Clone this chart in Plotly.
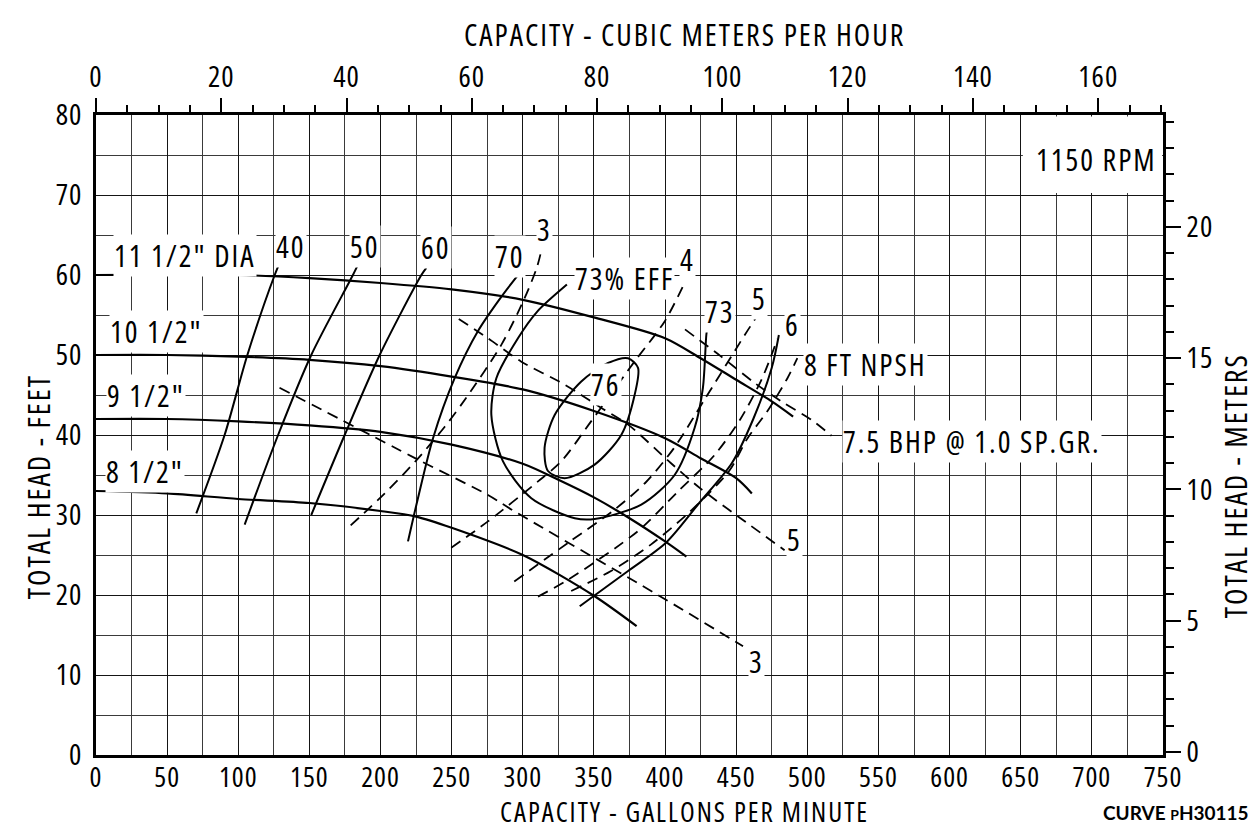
import plotly.graph_objects as go

# ---------------- data ----------------
GPM_PER_M3H = 4.402868
FT_PER_M = 3.28084

# tick labels
gpm_ticks = [0, 50, 100, 150, 200, 250, 300, 350, 400, 450, 500, 550, 600, 650, 700, 750]
ft_ticks = [0, 10, 20, 30, 40, 50, 60, 70, 80]
m3h_ticks = [0, 20, 40, 60, 80, 100, 120, 140, 160]
m_ticks = [0, 5, 10, 15, 20]

# Head-capacity curves (gpm, ft)
dia_115_q = [0, 100, 150, 200, 250, 300, 350, 400, 425, 450, 475, 490]
dia_115_h = [60, 60, 59.6, 59.0, 58.2, 56.9, 54.7, 52.1, 49.6, 46.9, 44.2, 42.3]
dia_105_q = [0, 50, 100, 150, 200, 250, 300, 350, 400, 425, 450, 461]
dia_105_h = [50, 50, 49.8, 49.4, 48.6, 47.3, 45.7, 43.0, 39.6, 37.1, 34.6, 32.7]
dia_95_q = [0, 50, 100, 150, 200, 250, 300, 325, 350, 375, 400, 415]
dia_95_h = [42, 42, 41.7, 41.2, 40.4, 38.8, 36.4, 34.4, 32.2, 29.6, 26.7, 24.8]
dia_85_q = [0, 50, 100, 150, 200, 225, 250, 300, 350, 380]
dia_85_h = [33, 32.7, 32.0, 31.5, 30.5, 29.8, 28.4, 25.0, 19.9, 16.1]

# Efficiency curves
eff_40_q = [70.5, 90.4, 106.4, 125.6, 130]
eff_40_h = [30.2, 40, 50, 60, 61.9]
eff_50_q = [104.5, 128, 151.3, 180.6, 185.3]
eff_50_h = [28.8, 40, 50, 60, 61.7]
eff_60_q = [151.3, 174.8, 199.4, 228.7, 232.2]
eff_60_h = [30, 40, 50, 60, 60.9]
eff_70l_q = [219.3, 226.3, 236.9, 252.1, 268.5, 285, 298]
eff_70l_h = [26.7, 32.1, 39.6, 47.1, 53.0, 57.3, 60.3]
eff_70r_q = [340, 374, 401, 424, 447, 462, 475, 480]
eff_70r_h = [18.6, 23.0, 26.6, 31.5, 36.5, 42.0, 48.4, 52.5]
eff_73_q = [331, 310, 296.6, 281.4, 277.9, 286.1, 306, 336.5, 350.5, 383.3, 406.7, 420.8, 426.6, 429, 430]
eff_73_h = [58.8, 55.4, 52.1, 47.1, 42.5, 36.7, 32.1, 29.6, 29.5, 31.3, 35.0, 40.9, 45.9, 52.5, 53.8]
eff_76_q = [329.4, 350.5, 369.2, 378.6, 381, 374, 359.9, 341.1, 322.4, 315.3, 317.7, 329.4]
eff_76_h = [34.6, 36.3, 40.0, 45.0, 48.4, 49.6, 49.0, 46.7, 42.5, 38.4, 35.5, 34.6]

# NPSH required curves (dashed)
npsh_3_q = [179, 203, 225, 245, 260, 285, 301, 310, 314]
npsh_3_h = [28.7, 32.7, 36.8, 41.0, 44.6, 51.3, 57.0, 61.0, 63.8]
npsh_4_q = [249.7, 275.5, 310.7, 327, 348, 378.6, 399.7, 413.7]
npsh_4_h = [25.9, 29.2, 34.2, 36.7, 41.7, 49.2, 54.2, 59.0]
npsh_5_q = [294, 334, 364, 386, 406, 428, 456, 467]
npsh_5_h = [21.7, 26.8, 30.6, 34.0, 38.3, 44.5, 52.5, 55.5]
npsh_6_q = [310.7, 331.8, 381, 408, 434.8, 453, 468, 479]
npsh_6_h = [19.8, 21.9, 28.0, 32.75, 37.5, 42.0, 47.0, 52.0]
npsh_8_q = [334, 362, 390, 418, 445, 458, 472, 486, 493]
npsh_8_h = [20.5, 23.0, 26.3, 30.5, 35.5, 39.6, 43.0, 47.1, 49.6]

# Brake horsepower curves (dashed)
bhp_3_q = [129, 214.6, 228.7, 275.5, 291.9, 395, 454.8]
bhp_3_h = [45.9, 38.0, 36.7, 32.5, 30.7, 20.0, 13.6]
bhp_5_q = [255, 275.5, 298.7, 329.4, 355, 374, 404, 425, 453, 484]
bhp_5_h = [54.5, 52.1, 49.2, 46.3, 43.4, 41.3, 36.5, 33.3, 29.6, 25.6]
bhp_75_q = [414, 439.5, 463, 481.7, 502.8, 517]
bhp_75_h = [53.2, 49.8, 46.5, 44.2, 41.9, 39.9]

# Curve labels: (text, gpm, ft)
labels = [
    ('11 1/2" DIA', 62.3, 62.4),
    ('10 1/2"', 42.2, 53.0),
    ('9 1/2"', 34.8, 44.9),
    ('8 1/2"', 34.4, 35.4),
    ('40', 137.3, 63.6),
    ('50', 188.9, 63.6),
    ('60', 239.2, 63.4),
    ('70', 290.8, 62.3),
    ('3', 315.3, 65.7),
    ('73% EFF', 371.6, 59.6),
    ('4', 416.1, 61.9),
    ('73', 438.4, 55.5),
    ('5', 466.5, 57.1),
    ('6', 489.9, 53.8),
    ('8 FT NPSH', 541.0, 48.8),
    ('76', 358.7, 46.3),
    ('7.5 BHP @ 1.0 SP.GR.', 616.0, 39.2),
    ('5', 491.0, 26.9),
    ('3', 464.1, 11.7),
    ('1150 RPM', 703.0, 74.4),
]

# ---------------- figure ----------------
FONT = "Open Sans, sans-serif"
FS = 30
TFS = 29


def cond(t, spacing=2):
    return f"<span style='font-stretch:75%;letter-spacing:{spacing}px'>{t}</span>"


fig = go.Figure()


def add_curve(q, h, dashed=False, width=2.0):
    fig.add_trace(go.Scatter(
        x=q, y=h, mode="lines", hoverinfo="skip", showlegend=False,
        line=dict(color="black", width=width, shape="spline", smoothing=0.8,
                  dash="11px,7px" if dashed else "solid")))


for q, h in [(dia_115_q, dia_115_h), (dia_105_q, dia_105_h),
             (dia_95_q, dia_95_h), (dia_85_q, dia_85_h)]:
    add_curve(q, h, width=2.2)
for q, h in [(eff_40_q, eff_40_h), (eff_50_q, eff_50_h), (eff_60_q, eff_60_h),
             (eff_70l_q, eff_70l_h), (eff_70r_q, eff_70r_h),
             (eff_73_q, eff_73_h), (eff_76_q, eff_76_h)]:
    add_curve(q, h, width=2.0)
for q, h in [(npsh_3_q, npsh_3_h), (npsh_4_q, npsh_4_h), (npsh_5_q, npsh_5_h),
             (npsh_6_q, npsh_6_h), (npsh_8_q, npsh_8_h),
             (bhp_3_q, bhp_3_h), (bhp_5_q, bhp_5_h), (bhp_75_q, bhp_75_h)]:
    add_curve(q, h, dashed=True, width=1.8)

# metric axes (top / right)
fig.add_trace(go.Scatter(x=[0], y=[0], xaxis="x2", yaxis="y2", mode="markers",
                         marker=dict(opacity=0), hoverinfo="skip", showlegend=False))

for text, q, h in labels:
    fig.add_annotation(x=q, y=h, xref="x", yref="y", text=cond(text), showarrow=False,
                       xanchor="center", yanchor="middle",
                       font=dict(family=FONT, size=FS, color="black"),
                       bgcolor="white", borderpad=0)

paper = dict(xref="paper", yref="paper", showarrow=False, xanchor="center", yanchor="middle")
tfont = dict(family=FONT, size=FS, color="black")
fig.add_annotation(text=cond("CAPACITY - CUBIC METERS PER HOUR"), x=0.552, y=1.1265,
                   font=tfont, **paper)
fig.add_annotation(text=cond("CAPACITY - GALLONS PER MINUTE"), x=0.552, y=-0.0878,
                   font=dict(family=FONT, size=27, color="black"), **paper)
fig.add_annotation(text=cond("TOTAL HEAD - FEET"), x=-0.0544, y=0.42, textangle=-90,
                   font=tfont, **paper)
fig.add_annotation(text=cond("TOTAL HEAD - METERS"), x=1.0675, y=0.42, textangle=-90,
                   font=tfont, **paper)
fig.add_annotation(text="<b>CURVE <span style='font-size:14px'>P</span>H30115-</b>",
                   x=1.089, y=-0.0898, xref="paper", yref="paper", showarrow=False,
                   xanchor="right", yanchor="middle",
                   font=dict(family="Lato, sans-serif", size=19, color="black"))

fig.add_shape(type="rect", xref="x", yref="y", x0=651.5, x1=749.3, y0=70.25, y1=79.8,
              fillcolor="white", line=dict(width=0), layer="between")

tickfont = dict(family=FONT, size=TFS, color="black")
fig.update_layout(
    width=1256, height=823,
    margin=dict(l=88, r=101, t=107, b=76),
    paper_bgcolor="white", plot_bgcolor="white",
    xaxis=dict(range=[0, 750], tickmode="array", tickvals=gpm_ticks,
               ticktext=[cond(v, 1) for v in gpm_ticks],
               showgrid=True, gridcolor="#151515", ticklabelstandoff=-4,
               gridwidth=1.4, zeroline=False, showline=True, linecolor="black",
               linewidth=2.5, ticks="", tickfont=dict(family=FONT, size=28, color="black"),
               minor=dict(dtick=25, tick0=0, showgrid=True, gridcolor="#3a3a3a", gridwidth=1.1)),
    yaxis=dict(range=[0, 80], tickmode="array", tickvals=ft_ticks,
               ticktext=[cond(v, 1) for v in ft_ticks],
               showgrid=True, gridcolor="#151515", ticklabelstandoff=5,
               gridwidth=1.4, zeroline=False, showline=True, linecolor="black",
               linewidth=2.5, ticks="", tickfont=tickfont,
               minor=dict(dtick=5, tick0=0, showgrid=True, gridcolor="#3a3a3a", gridwidth=1.1)),
    xaxis2=dict(overlaying="x", side="top", anchor="y",
                range=[0, 750 / GPM_PER_M3H], tickmode="array", tickvals=m3h_ticks,
                ticktext=[cond(v, 1) for v in m3h_ticks], showgrid=False,
                zeroline=False, showline=True, linecolor="black", linewidth=2.5,
                ticks="outside", ticklen=14, tickwidth=2, tickcolor="black",
                tickfont=tickfont,
                minor=dict(dtick=5, tick0=0, ticks="outside", ticklen=7, tickwidth=1.5,
                           tickcolor="black", showgrid=False)),
    yaxis2=dict(overlaying="y", side="right", anchor="x",
                range=[-0.12, 80 / FT_PER_M - 0.12], tickmode="array", tickvals=m_ticks,
                ticktext=[cond(v, 1) for v in m_ticks], showgrid=False,
                zeroline=False, showline=True, linecolor="black", linewidth=2.5,
                ticks="outside", ticklen=15, tickwidth=2, tickcolor="black",
                tickfont=tickfont,
                minor=dict(dtick=1, tick0=0, ticks="outside", ticklen=8, tickwidth=1.5,
                           tickcolor="black", showgrid=False)),
)

fig.write_html("out.html")
